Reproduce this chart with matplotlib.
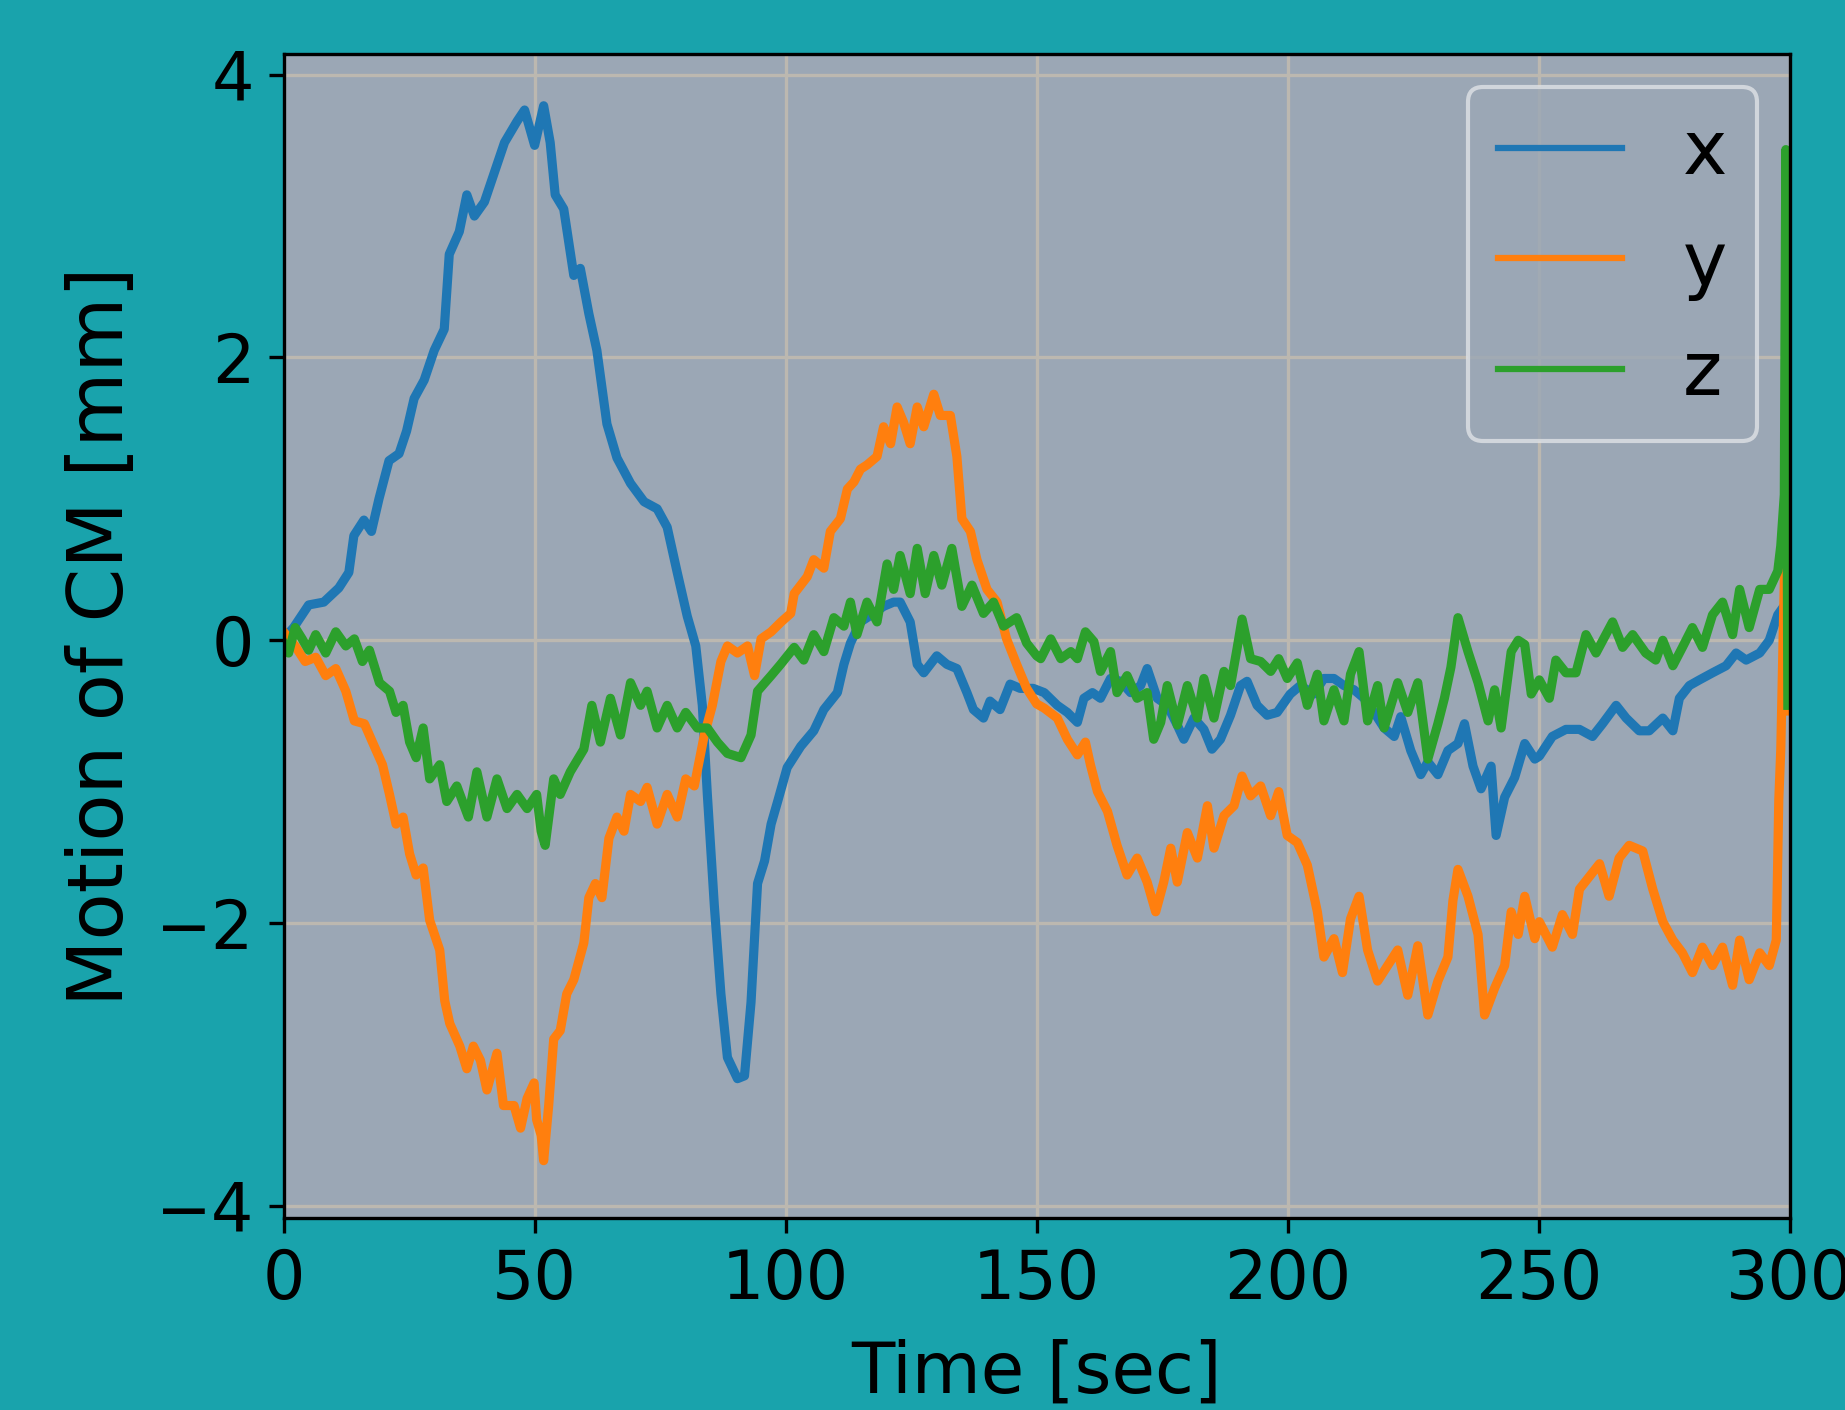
import matplotlib
matplotlib.use('Agg')
import matplotlib.pyplot as plt

# motion of centre of mass
t_x = [0, 2, 5, 8, 11, 13, 14, 16, 17.5, 19, 21, 23, 24.5, 26, 28, 30, 32, 33, 35, 36.5,
       38, 40, 42, 44, 46.5, 48, 50, 51.8, 53.1, 54.1, 55.8, 57.8, 59.1, 60.8, 62.4, 64.4,
       66.4, 69.1, 71.8, 74.4, 76.4, 78.4, 80.4, 82.1, 83.4, 84.4, 85.8, 87.1, 88.4, 90.4,
       91.8, 93.1, 94.4, 95.8, 97.1, 98.4, 100.3, 103, 105.6, 107.6, 110.3, 111.6, 112.9,
       114.9, 117.5, 119.5, 121.5, 122.8, 124.8, 126.2, 127.5, 130.1, 132.1, 134.1, 136.1,
       137.4, 139.4, 140.7, 142.7, 144.7, 146.7, 149.3, 151.5, 154.1, 156.1, 158.1, 159.4,
       161.1, 162.7, 164.7, 166.7, 168.7, 170.7, 172, 174, 176, 178, 179.3, 181.3, 183.3,
       184.9, 186.6, 188.6, 190.6, 191.9, 193.9, 195.9, 197.9, 200.5, 202.5, 205.2, 207.2,
       209.2, 211.2, 213.2, 215.2, 217.2, 219.2, 221.2, 222.5, 224.5, 226.5, 227.9, 229.9,
       231.9, 233.9, 235.2, 236.9, 238.5, 240.5, 241.5, 243.2, 245.2, 247.2, 249.2, 250.1,
       252.7, 255.4, 258.1, 260.7, 262.7, 265.4, 267.4, 270, 272, 274.7, 276.7, 278, 280,
       282, 284.6, 287.3, 289.3, 291.3, 294, 295.9, 297.6, 298.4]
x_vals = [0.01, 0.09, 0.25, 0.27, 0.37, 0.48, 0.74, 0.85, 0.77, 1.0, 1.27, 1.32, 1.48, 1.71,
          1.84, 2.05, 2.2, 2.73, 2.89, 3.15, 3.0, 3.1, 3.31, 3.52, 3.67, 3.75, 3.5, 3.78,
          3.52, 3.15, 3.05, 2.58, 2.63, 2.31, 2.05, 1.53, 1.29, 1.11, 0.98, 0.93, 0.8, 0.48,
          0.17, -0.04, -0.46, -1.09, -1.88, -2.5, -2.95, -3.1, -3.08, -2.56, -1.72, -1.56,
          -1.3, -1.14, -0.9, -0.75, -0.64, -0.49, -0.37, -0.17, -0.02, 0.13, 0.19, 0.24,
          0.27, 0.27, 0.13, -0.17, -0.23, -0.11, -0.17, -0.2, -0.37, -0.49, -0.55, -0.43,
          -0.49, -0.31, -0.34, -0.34, -0.37, -0.46, -0.51, -0.58, -0.41, -0.37, -0.41, -0.27,
          -0.29, -0.37, -0.32, -0.2, -0.41, -0.46, -0.6, -0.7, -0.55, -0.63, -0.77, -0.7,
          -0.53, -0.32, -0.29, -0.46, -0.53, -0.51, -0.38, -0.32, -0.38, -0.27, -0.27, -0.32,
          -0.35, -0.41, -0.51, -0.62, -0.68, -0.54, -0.78, -0.95, -0.86, -0.95, -0.78, -0.73,
          -0.59, -0.89, -1.05, -0.89, -1.38, -1.11, -0.97, -0.73, -0.84, -0.82, -0.68, -0.63,
          -0.63, -0.68, -0.59, -0.46, -0.55, -0.64, -0.64, -0.55, -0.64, -0.41, -0.32, -0.28,
          -0.23, -0.18, -0.09, -0.14, -0.09, 0.0, 0.18, 0.22]

t_y = [0, 2.3, 4.3, 6.4, 8.4, 10.4, 12.4, 14.1, 16.1, 17.7, 19.7, 21.1, 22.4, 23.8, 25.1,
       26.4, 27.8, 29.1, 31.1, 32.1, 33.1, 35.1, 36.5, 37.8, 39.2, 40.5, 42.5, 43.8, 45.9,
       47.2, 48.5, 49.9, 50.4, 51.3, 51.8, 52.8, 53.8, 55.1, 56.4, 57.8, 59.8, 60.8, 62.1,
       63.4, 64.8, 66.4, 67.8, 69.1, 71.1, 72.4, 74.4, 76.4, 78.4, 80.1, 81.8, 83.8, 85.4,
       87.1, 88.4, 90.4, 92.4, 93.8, 95.1, 97.1, 99.1, 101, 101.7, 104.3, 105.6, 107.6,
       108.9, 110.9, 112.3, 113.6, 114.9, 116.2, 118.2, 119.5, 120.9, 122.2, 123.5, 124.8,
       126.2, 127.5, 129.5, 130.8, 132.8, 134.1, 135.1, 136.8, 138.1, 140.1, 142.1, 144,
       146, 148, 150, 151.5, 154.1, 156.1, 158.1, 159.7, 160.7, 162.1, 164.1, 166, 168,
       170, 172, 173.7, 175.3, 176.7, 178, 180, 182, 184, 185.3, 187.3, 189.3, 190.9, 192.6,
       194.6, 196.6, 198.2, 199.9, 201.9, 203.9, 205.9, 207.2, 209.2, 210.9, 212.5, 214.2,
       215.9, 217.9, 219.9, 221.9, 223.9, 225.9, 227.9, 229.9, 231.9, 232.9, 233.9, 235.9,
       237.9, 239.2, 241.2, 243.2, 244.5, 245.9, 247.2, 249.2, 250.1, 252.7, 254.7, 256.7,
       258.1, 260.1, 262.1, 264, 266, 268, 270.7, 272.7, 274.7, 276.7, 278.6, 280.6, 282.6,
       284.6, 286.6, 288.6, 290, 291.9, 294, 295.9, 297.3, 297.8, 298.2, 299.2, 299.5]
y_vals = [0.06, -0.04, -0.15, -0.12, -0.25, -0.2, -0.36, -0.57, -0.59, -0.72, -0.88, -1.09,
          -1.3, -1.25, -1.51, -1.66, -1.61, -1.98, -2.19, -2.55, -2.71, -2.87, -3.03, -2.87,
          -2.97, -3.18, -2.92, -3.29, -3.29, -3.45, -3.24, -3.13, -3.39, -3.5, -3.68, -3.29,
          -2.82, -2.76, -2.5, -2.4, -2.14, -1.82, -1.72, -1.82, -1.4, -1.25, -1.35, -1.09,
          -1.14, -1.04, -1.3, -1.09, -1.25, -0.98, -1.03, -0.67, -0.46, -0.15, -0.04, -0.09,
          -0.04, -0.25, 0.01, 0.06, 0.13, 0.19, 0.33, 0.45, 0.57, 0.51, 0.77, 0.86, 1.07,
          1.12, 1.21, 1.24, 1.3, 1.51, 1.39, 1.65, 1.54, 1.39, 1.65, 1.51, 1.74, 1.59, 1.59,
          1.3, 0.86, 0.77, 0.57, 0.36, 0.27, 0.01, -0.17, -0.34, -0.45, -0.48, -0.55, -0.7,
          -0.81, -0.72, -0.88, -1.07, -1.21, -1.45, -1.66, -1.54, -1.71, -1.92, -1.71, -1.47,
          -1.71, -1.36, -1.54, -1.17, -1.47, -1.24, -1.17, -0.96, -1.1, -1.03, -1.24, -1.07,
          -1.38, -1.43, -1.59, -1.92, -2.24, -2.11, -2.35, -1.97, -1.81, -2.19, -2.41, -2.3,
          -2.19, -2.51, -2.16, -2.65, -2.41, -2.24, -1.84, -1.62, -1.81, -2.08, -2.65, -2.46,
          -2.3, -1.92, -2.08, -1.81, -2.11, -1.99, -2.17, -1.94, -2.08, -1.76, -1.67, -1.58,
          -1.81, -1.54, -1.45, -1.49, -1.76, -1.99, -2.12, -2.21, -2.35, -2.17, -2.3, -2.17,
          -2.44, -2.12, -2.4, -2.21, -2.3, -2.12, -1.13, -0.77, 0.94, -0.5]

t_z = [0, 1, 2.3, 3.7, 5, 6.4, 8.4, 10.4, 12.4, 14.1, 15.7, 17.1, 19.1, 21.1, 22.4, 23.8,
       25.1, 26.4, 27.8, 29.1, 31.1, 32.5, 34.5, 36.8, 38.5, 40.5, 42.5, 44.5, 46.5, 48.5,
       50.4, 51.3, 52.1, 53.8, 55.1, 57.1, 59.8, 61.4, 63.1, 65.1, 67.1, 69.1, 71.1, 72.4,
       74.4, 76.4, 78.4, 80.1, 82.4, 84.4, 86.4, 88.4, 91.1, 93.1, 94.4, 97.1, 99, 101.7,
       103.6, 105.6, 107.6, 109.6, 111.6, 112.9, 114.2, 116.2, 118.2, 120.2, 121.5, 122.8,
       124.8, 126.2, 127.8, 129.5, 131.1, 133.1, 135.1, 137.1, 139.4, 141.4, 143.4, 146,
       148, 150, 150.8, 152.8, 154.8, 156.8, 158.1, 159.7, 161.4, 162.7, 164.7, 166, 168,
       170, 172, 173.3, 174.7, 176, 178, 180, 182, 183.3, 185.3, 187.3, 188.6, 189.9, 190.9,
       192.6, 194.6, 196.6, 198.2, 199.9, 201.9, 203.9, 205.9, 207.2, 209.2, 211.2, 212.5,
       214.2, 215.9, 217.9, 219.2, 221.9, 223.9, 225.9, 227.9, 229.9, 231.2, 232.5, 233.9,
       235.9, 237.9, 239.9, 241.2, 242.5, 244.5, 245.9, 247.2, 248.5, 250.1, 252.1, 253.4,
       255.4, 257.4, 259.4, 261.4, 264.7, 266.7, 268.7, 271.3, 273.3, 274.7, 276.7, 278.6,
       280.6, 282.6, 284.6, 286.6, 288.6, 290, 291.9, 294, 295.9, 297.6, 298.2, 298.9,
       299.2, 299.6]
z_vals = [-0.02, -0.09, 0.09, 0.01, -0.07, 0.04, -0.09, 0.06, -0.04, 0.01, -0.15, -0.07,
          -0.3, -0.36, -0.51, -0.46, -0.72, -0.83, -0.62, -0.98, -0.88, -1.14, -1.03, -1.25,
          -0.93, -1.25, -0.98, -1.19, -1.09, -1.19, -1.09, -1.35, -1.45, -0.98, -1.09, -0.93,
          -0.77, -0.46, -0.72, -0.41, -0.67, -0.3, -0.46, -0.36, -0.62, -0.46, -0.62, -0.51,
          -0.62, -0.62, -0.72, -0.8, -0.83, -0.67, -0.36, -0.25, -0.17, -0.05, -0.14, 0.04,
          -0.08, 0.16, 0.1, 0.27, 0.04, 0.27, 0.13, 0.54, 0.36, 0.6, 0.33, 0.65, 0.33, 0.6,
          0.39, 0.65, 0.24, 0.39, 0.19, 0.27, 0.1, 0.16, -0.02, -0.11, -0.13, 0.01, -0.13,
          -0.08, -0.13, 0.06, -0.01, -0.22, -0.08, -0.37, -0.25, -0.41, -0.37, -0.7, -0.58,
          -0.32, -0.6, -0.32, -0.55, -0.27, -0.55, -0.22, -0.32, -0.06, 0.15, -0.13, -0.15,
          -0.22, -0.13, -0.27, -0.16, -0.46, -0.24, -0.57, -0.35, -0.57, -0.24, -0.08, -0.57,
          -0.32, -0.62, -0.3, -0.51, -0.3, -0.84, -0.59, -0.41, -0.19, 0.16, -0.08, -0.3,
          -0.57, -0.35, -0.62, -0.08, 0.0, -0.03, -0.38, -0.28, -0.41, -0.14, -0.23, -0.23,
          0.04, -0.09, 0.13, -0.05, 0.04, -0.09, -0.14, 0.0, -0.18, -0.05, 0.09, -0.05, 0.18,
          0.27, 0.04, 0.36, 0.09, 0.36, 0.36, 0.49, 0.67, 1.03, 3.47, -0.46]

labels = ['x', 'y', 'z']

fig = plt.figure(figsize=(6.15, 4.7), dpi=300, facecolor='#19a3ac')
ax = fig.add_axes([0.1537, 0.1362, 0.8164, 0.8255])
ax.set_facecolor('#9ba7b5')

ax.plot(t_x, x_vals, color='#1f77b4', lw=2.2, label=labels[0])
ax.plot(t_y, y_vals, color='#ff7f0e', lw=2.2, label=labels[1])
ax.plot(t_z, z_vals, color='#2ca02c', lw=2.2, label=labels[2])

ax.set_xlim(0, 300)
ax.set_ylim(-4.085, 4.146)
ax.set_xticks([0, 50, 100, 150, 200, 250, 300])
ax.set_yticks([-4, -2, 0, 2, 4])
ax.tick_params(labelsize=16)
ax.grid(True, color='#bcb8b0', lw=0.8)

ax.set_xlabel('Time [sec]', fontsize=17, labelpad=6)
ax.set_ylabel('Motion of CM [mm]', fontsize=18.5)

leg = ax.legend(loc='upper right', fontsize=18, handlelength=1.66, borderaxespad=0.44,
                facecolor='#9ba7b5', edgecolor='#dfe2e6', framealpha=0.8)
for line in leg.get_lines():
    line.set_linewidth(1.5)

fig.savefig('out.png', dpi=300, facecolor=fig.get_facecolor())
